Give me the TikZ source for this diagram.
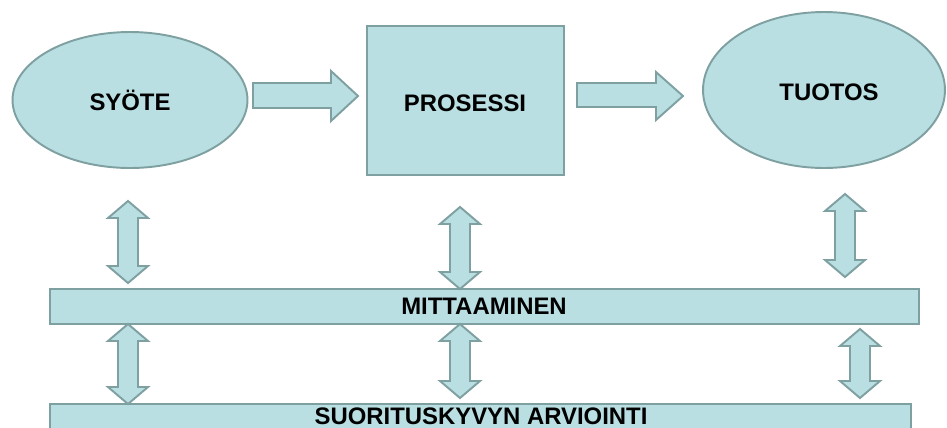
\documentclass[tikz,border=0pt]{standalone}
\usepackage{fontspec}
\setmainfont{Liberation Sans}
\usetikzlibrary{shapes.geometric}
\definecolor{boxfill}{RGB}{185,223,227}
\definecolor{boxline}{RGB}{127,160,161}
\tikzset{
  shapebase/.style={draw=boxline, fill=boxfill, line width=1.1pt},
  oval/.style={shapebase, ellipse, inner sep=0pt},
  squarebox/.style={shapebase, rectangle, inner sep=0pt},
  bar/.style={shapebase, rectangle, inner sep=0pt, minimum height=0.7cm},
  blockarrow/.style={shapebase, line join=miter},
  txt/.style={font=\bfseries\fontsize{13.6}{16}\selectfont, inner sep=0pt}
}
% vertical two-headed block arrow: centre x, top y, bottom y
\newcommand\vdblarrow[3]{%
  \draw[blockarrow] (#1,#2) -- (#1+20,#2+17) -- (#1+10,#2+17) -- (#1+10,#3-17)
    -- (#1+20,#3-17) -- (#1,#3) -- (#1-20,#3-17) -- (#1-10,#3-17)
    -- (#1-10,#2+17) -- (#1-20,#2+17) -- cycle;}
\begin{document}
\begin{tikzpicture}[x=0.02cm, y=-0.02cm]
  \useasboundingbox (0,0) rectangle (947,427);
  \clip (0,0) rectangle (947,427);

  % process chain
  \node[oval, minimum width=4.70cm, minimum height=2.72cm] (syote) at (130,100) {};
  \node[txt] (syotetxt) at (130,100) {SYÖTE};
  \node[squarebox, minimum width=3.94cm, minimum height=2.98cm] (prosessi) at (465.5,100.5) {};
  \node[txt] (prosessitxt) at (465,103) {PROSESSI};
  \node[oval, minimum width=4.84cm, minimum height=3.12cm] (tuotos) at (824,90) {};
  \node[txt] (tuotostxt) at (829,92) {TUOTOS};

  % horizontal block arrows between the stages
  \draw[blockarrow] (253,83) -- (331,83) -- (331,71) -- (358,96) -- (331,121)
    -- (331,108) -- (253,108) -- cycle;
  \draw[blockarrow] (577,83) -- (656,83) -- (656,72) -- (683,96) -- (656,120)
    -- (656,107) -- (577,107) -- cycle;

  % measurement and evaluation bars
  \node[bar, minimum width=17.38cm] (mittaaminen) at (484.5,306.5) {};
  \node[txt] (mittaamintxt) at (484,306) {MITTAAMINEN};
  \node[bar, minimum width=17.22cm] (arviointi) at (480.5,421.5) {};
  \node[txt] (arviointitxt) at (481,416) {SUORITUSKYVYN ARVIOINTI};

  % two-way links between the stages and the bars
  \vdblarrow{128}{201}{283}
  \vdblarrow{460}{207}{289}
  \vdblarrow{845}{194}{277}
  \vdblarrow{128}{324}{404}
  \vdblarrow{460}{324}{398}
  \vdblarrow{860}{329}{398}
\end{tikzpicture}
\end{document}
